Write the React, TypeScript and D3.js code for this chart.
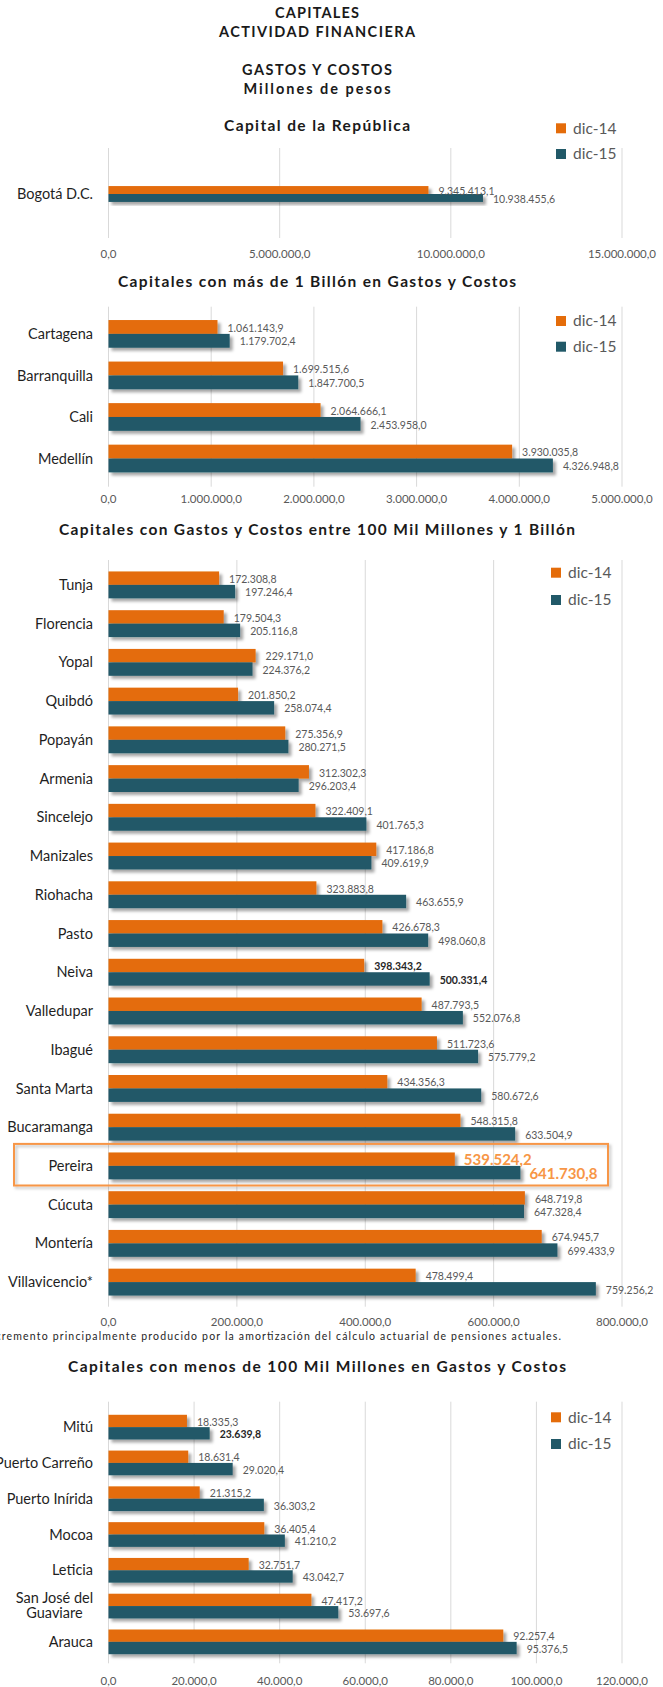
import React from "react";
import * as d3 from "d3";

// ---------- DATA ----------
const headerLines = ["CAPITALES", "ACTIVIDAD  FINANCIERA", "GASTOS  Y COSTOS", "Millones  de pesos"];
const seriesNames = ["dic-14", "dic-15"];

const p1Title = "Capital de la República";
const p1Categories = ["Bogotá D.C."];
const p1Dic14 = [9345413.1];
const p1Dic15 = [10938455.6];
const p1Ticks = [0, 5000000, 10000000, 15000000];

const p2Title = "Capitales con más de 1 Billón en Gastos y Costos";
const p2Categories = ["Cartagena", "Barranquilla", "Cali", "Medellín"];
const p2Dic14 = [1061143.9, 1699515.6, 2064666.1, 3930035.8];
const p2Dic15 = [1179702.4, 1847700.5, 2453958.0, 4326948.8];
const p2Ticks = [0, 1000000, 2000000, 3000000, 4000000, 5000000];

const p3Title = "Capitales con Gastos y Costos entre 100 Mil Millones y 1 Billón";
const p3Categories = [
  "Tunja", "Florencia", "Yopal", "Quibdó", "Popayán", "Armenia", "Sincelejo", "Manizales",
  "Riohacha", "Pasto", "Neiva", "Valledupar", "Ibagué", "Santa Marta", "Bucaramanga",
  "Pereira", "Cúcuta", "Montería", "Villavicencio*",
];
const p3Dic14 = [
  172308.8, 179504.3, 229171.0, 201850.2, 275356.9, 312302.3, 322409.1, 417186.8,
  323883.8, 426678.3, 398343.2, 487793.5, 511723.6, 434356.3, 548315.8,
  539524.2, 648719.8, 674945.7, 478499.4,
];
const p3Dic15 = [
  197246.4, 205116.8, 224376.2, 258074.4, 280271.5, 296203.4, 401765.3, 409619.9,
  463655.9, 498060.8, 500331.4, 552076.8, 575779.2, 580672.6, 633504.9,
  641730.8, 647328.4, 699433.9, 759256.2,
];
const p3Ticks = [0, 200000, 400000, 600000, 800000];
const p3Footnote =
  "*Incremento principalmente producido por la amortización del cálculo actuarial de pensiones actuales.";

const p4Title = "Capitales con menos de 100 Mil Millones en Gastos y Costos";
const p4Categories = [
  "Mitú", "Puerto Carreño", "Puerto Inírida", "Mocoa", "Leticia", "San José del Guaviare", "Arauca",
];
const p4Dic14 = [18335.3, 18631.4, 21315.2, 36405.4, 32751.7, 47417.2, 92257.4];
const p4Dic15 = [23639.8, 29020.4, 36303.2, 41210.2, 43042.7, 53697.6, 95376.5];
const p4Ticks = [0, 20000, 40000, 60000, 80000, 100000, 120000];

// labels drawn bold dark: [category, seriesIndex]
const boldLabels: [string, number][] = [["Neiva", 0], ["Neiva", 1], ["Mitú", 1]];
const highlightCategory = "Pereira";

// ---------- STYLE / LAYOUT ----------
const W = 663;
const H = 1687;
const FONT = "Lato, 'Open Sans', sans-serif";
const ORANGE = "#E46C0A";
const TEAL = "#215968";
const GRID = "#D9D9D9";
const GRAY = "#595959";
const HL = "#F79646";
const X0 = 108.5;
const X1 = 622;

const locale = d3.formatLocale({ decimal: ",", thousands: ".", grouping: [3], currency: ["$", ""] });
const fmt = locale.format(",.1f");

type PanelCfg = {
  title: string;
  titleY: number;
  titleLen: number;
  categories: string[];
  dic14: number[];
  dic15: number[];
  ticks: number[];
  bandTop: number;
  bandBottom: number;
  gridTop: number;
  gridBottom: number;
  padding: number;
  tickY: number;
  legendX: number;
  legendY: [number, number];
};

const panels: PanelCfg[] = [
  {
    title: p1Title, titleY: 126, titleLen: 186, categories: p1Categories, dic14: p1Dic14, dic15: p1Dic15,
    ticks: p1Ticks, bandTop: 149, bandBottom: 239, gridTop: 148, gridBottom: 238, padding: 0.7,
    tickY: 254, legendX: 556, legendY: [128.3, 154],
  },
  {
    title: p2Title, titleY: 281.7, titleLen: 398, categories: p2Categories, dic14: p2Dic14, dic15: p2Dic15,
    ticks: p2Ticks, bandTop: 306.2, bandBottom: 486.2, gridTop: 306.7, gridBottom: 486.7, padding: 0.333,
    tickY: 499.3, legendX: 556, legendY: [321, 346.7],
  },
  {
    title: p3Title, titleY: 529.3, titleLen: 516, categories: p3Categories, dic14: p3Dic14, dic15: p3Dic15,
    ticks: p3Ticks, bandTop: 559.6, bandBottom: 1307.4, gridTop: 560, gridBottom: 1306.7, padding: 0.306,
    tickY: 1321.7, legendX: 551, legendY: [572.7, 600],
  },
  {
    title: p4Title, titleY: 1366.7, titleLen: 498, categories: p4Categories, dic14: p4Dic14, dic15: p4Dic15,
    ticks: p4Ticks, bandTop: 1403.7, bandBottom: 1665.3, gridTop: 1401.7, gridBottom: 1663.3, padding: 0.31,
    tickY: 1680.7, legendX: 551, legendY: [1417.3, 1444],
  },
];

function isBold(cat: string, s: number) {
  return boldLabels.some(([c, i]) => c === cat && i === s);
}

function Panel({ cfg }: { cfg: PanelCfg }) {
  const max = cfg.ticks[cfg.ticks.length - 1];
  const x = d3.scaleLinear().domain([0, max]).range([X0, X1]);
  const y = d3.scaleBand<string>().domain(cfg.categories).range([cfg.bandTop, cfg.bandBottom]).padding(cfg.padding);
  const sub = d3.scaleBand<number>().domain([0, 1]).range([0, y.bandwidth()]);
  const colors = [ORANGE, TEAL];
  const series = [cfg.dic14, cfg.dic15];

  return (
    <g>
      <text x={317} y={cfg.titleY} dy="0.35em" textAnchor="middle" fontFamily={FONT} fontWeight="bold"
        fontSize={15.5} fill="#1a1a1a" textLength={cfg.titleLen} lengthAdjust="spacing">
        {cfg.title}
      </text>
      {cfg.ticks.map((t) => (
        <g key={t}>
          <line x1={x(t)} x2={x(t)} y1={cfg.gridTop} y2={cfg.gridBottom} stroke={GRID} strokeWidth={1} />
          <text x={x(t)} y={cfg.tickY} dy="0.35em" textAnchor="middle" fontFamily={FONT} fontSize={11.5} fill={GRAY}>
            {fmt(t)}
          </text>
        </g>
      ))}
      {cfg.categories.map((c, i) => {
        const y0 = y(c)!;
        const cy = y0 + y.bandwidth() / 2;
        const words = c === "San José del Guaviare" ? ["San José del", "Guaviare"] : [c];
        return (
          <g key={c}>
            {words.length === 1 ? (
              <text x={93} y={cy} dy="0.35em" textAnchor="end" fontFamily={FONT} fontSize={14.5} fill="#1f1f1f">
                {c}
              </text>
            ) : (
              <text x={54.5} y={cy} textAnchor="middle" fontFamily={FONT} fontSize={14.5} fill="#1f1f1f">
                <tspan x={54.5} dy="-0.22em">{words[0]}</tspan>
                <tspan x={54.5} dy="1.05em">{words[1]}</tspan>
              </text>
            )}
            {series.map((vals, s) => (
              <rect key={s} x={x(0)} y={y0 + sub(s)!} width={x(vals[i]) - x(0)} height={sub.bandwidth()}
                fill={colors[s]} filter="url(#shadow)" />
            ))}
            {series.map((vals, s) => {
              const hl = c === highlightCategory;
              const bold = isBold(c, s);
              return (
                <text key={"l" + s} x={x(vals[i]) + (hl ? 9 : 10)} y={y0 + sub(s)! + sub.bandwidth() / 2 + 1}
                  dy="0.35em" fontFamily={FONT} fontSize={hl ? 15 : 10.5}
                  fontWeight={hl || bold ? "bold" : "normal"} fill={hl ? HL : bold ? "#262626" : GRAY}>
                  {fmt(vals[i])}
                </text>
              );
            })}
            {c === highlightCategory && (
              <rect x={14} y={cy - 22} width={594} height={41.6} fill="none" stroke={HL} strokeWidth={2}
                filter="url(#shadow2)" />
            )}
          </g>
        );
      })}
      {seriesNames.map((n, s) => (
        <g key={n}>
          <rect x={cfg.legendX} y={cfg.legendY[s] - 5} width={10} height={10} fill={colors[s]} />
          <text x={cfg.legendX + 17} y={cfg.legendY[s]} dy="0.35em" fontFamily={FONT} fontSize={15.5} fill={GRAY}>
            {n}
          </text>
        </g>
      ))}
    </g>
  );
}

export default function App() {
  const headerY = [12.7, 31.7, 70, 89];
  const headerLen = [84, 196, 150, 147];
  return (
    <svg width={W} height={H} viewBox={`0 0 ${W} ${H}`}
      style={{ position: "absolute", left: 0, top: 0, background: "#fff", display: "block" }}>
      <defs>
        <filter id="shadow" x="-10%" y="-30%" width="130%" height="180%">
          <feDropShadow dx={3} dy={3} stdDeviation={1.6} floodColor="#000" floodOpacity={0.35} />
        </filter>
        <filter id="shadow2" x="-5%" y="-30%" width="110%" height="180%">
          <feDropShadow dx={2} dy={2} stdDeviation={1.5} floodColor="#000" floodOpacity={0.25} />
        </filter>
      </defs>
      <rect width={W} height={H} fill="#fff" />
      {headerLines.map((t, i) => (
        <text key={i} x={317} y={headerY[i]} dy="0.35em" textAnchor="middle" fontFamily={FONT}
          fontWeight="bold" fontSize={14.5} fill="#1a1a1a" textLength={headerLen[i]} lengthAdjust="spacing">
          {t}
        </text>
      ))}
      {panels.map((p, i) => (
        <Panel key={i} cfg={p} />
      ))}
      <text x={-21} y={1336.7} dy="0.35em" fontFamily={FONT} fontSize={10.5} fill="#262626"
        textLength={582} lengthAdjust="spacing">
        {p3Footnote}
      </text>
    </svg>
  );
}
